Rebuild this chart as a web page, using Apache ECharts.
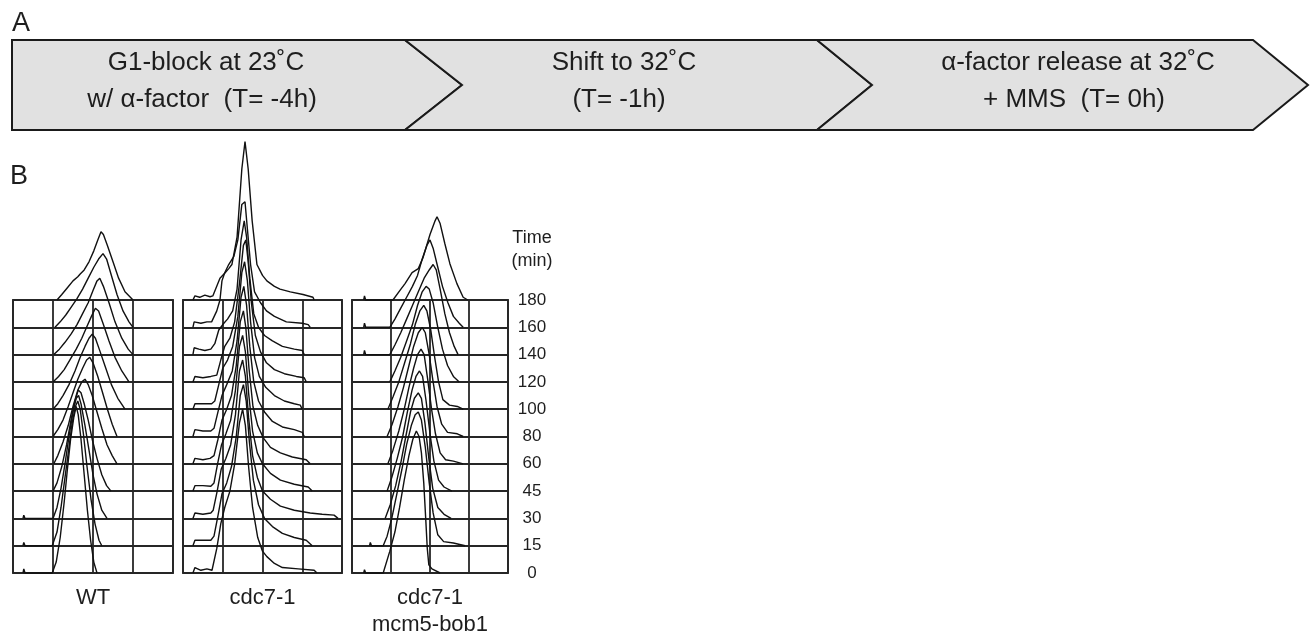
<!DOCTYPE html>
<html>
<head>
<meta charset="utf-8">
<script src="https://cdn.jsdelivr.net/npm/echarts@6/dist/echarts.min.js"></script>
<style>
  html, body { margin: 0; padding: 0; background: #fff; }
  #chart { width: 1312px; height: 641px; }
</style>
</head>
<body>
<div id="chart"></div>
<script>
// time points (rows, bottom to top)
const timeLabels = ['0', '15', '30', '45', '60', '80', '100', '120', '140', '160', '180']
const strainNames = ['WT', 'cdc7-1', 'cdc7-1\nmcm5-bob1']

// histograms: [DNA content (grid columns 0-4), cell count (in row heights)]
const wtHist = [
  [[0.25,0],[0.27,0.15],[0.3,0],[0.98,0],[1.08,0.4],[1.18,1.3],[1.28,2.6],[1.36,3.8],[1.44,4.9],[1.52,5.7],[1.58,6.1],[1.63,5.8],[1.7,4.9],[1.78,3.6],[1.86,2.3],[1.94,1.2],[2.02,0.4],[2.1,0]],
  [[0.25,0],[0.27,0.12],[0.3,0],[0.98,0],[1.1,0.5],[1.2,1.4],[1.3,2.5],[1.4,3.6],[1.48,4.5],[1.56,5.1],[1.62,5.3],[1.68,5.0],[1.76,4.1],[1.85,2.9],[1.95,1.7],[2.05,0.8],[2.15,0.2],[2.22,0]],
  [[0.25,0],[0.27,0.12],[0.3,0],[1.0,0],[1.1,0.4],[1.2,1.1],[1.3,2.0],[1.4,3.0],[1.5,3.9],[1.58,4.4],[1.64,4.5],[1.7,4.2],[1.8,3.4],[1.9,2.5],[2.0,1.6],[2.1,0.9],[2.22,0.3],[2.35,0]],
  [[1.0,0],[1.1,0.3],[1.22,0.9],[1.34,1.7],[1.45,2.6],[1.55,3.3],[1.63,3.7],[1.7,3.6],[1.78,3.2],[1.88,2.6],[1.98,1.9],[2.1,1.2],[2.22,0.6],[2.34,0.2],[2.45,0]],
  [[1.02,0],[1.12,0.3],[1.25,0.8],[1.38,1.4],[1.5,2.1],[1.62,2.7],[1.72,3.0],[1.8,3.1],[1.88,2.9],[1.98,2.5],[2.1,1.9],[2.22,1.3],[2.35,0.7],[2.48,0.3],[2.6,0]],
  [[1.0,0],[1.12,0.25],[1.25,0.6],[1.38,1.1],[1.5,1.6],[1.62,2.1],[1.74,2.5],[1.84,2.8],[1.92,2.9],[2.0,2.7],[2.12,2.2],[2.24,1.6],[2.36,1.0],[2.48,0.45],[2.6,0]],
  [[1.0,0],[1.12,0.2],[1.25,0.5],[1.4,0.9],[1.55,1.4],[1.68,1.9],[1.8,2.3],[1.9,2.6],[1.98,2.75],[2.06,2.6],[2.18,2.1],[2.32,1.5],[2.46,0.9],[2.62,0.4],[2.8,0]],
  [[1.0,0],[1.14,0.2],[1.28,0.45],[1.42,0.8],[1.58,1.2],[1.72,1.6],[1.84,2.0],[1.96,2.4],[2.06,2.7],[2.14,2.6],[2.26,2.1],[2.4,1.5],[2.55,0.9],[2.72,0.4],[2.9,0]],
  [[1.02,0],[1.16,0.2],[1.3,0.45],[1.45,0.75],[1.6,1.1],[1.74,1.5],[1.88,1.9],[2.0,2.35],[2.1,2.7],[2.17,2.8],[2.26,2.5],[2.4,1.9],[2.55,1.2],[2.72,0.6],[2.88,0.2],[3.0,0]],
  [[1.05,0],[1.18,0.2],[1.32,0.45],[1.46,0.75],[1.6,1.05],[1.74,1.4],[1.88,1.8],[2.02,2.2],[2.14,2.5],[2.25,2.7],[2.34,2.5],[2.46,1.9],[2.6,1.2],[2.75,0.6],[2.9,0.2],[3.0,0]],
  [[1.1,0],[1.22,0.2],[1.36,0.45],[1.5,0.7],[1.62,0.85],[1.68,0.95],[1.78,1.1],[1.9,1.4],[2.02,1.8],[2.12,2.2],[2.2,2.5],[2.26,2.4],[2.36,2.0],[2.5,1.4],[2.64,0.8],[2.8,0.3],[3.0,0]]
]

const cdc7Hist = [
  [[0.25,0],[0.3,0.2],[0.45,0.1],[0.6,0.15],[0.73,0.1],[0.85,0.9],[0.95,1.8],[1.05,2.4],[1.18,3.0],[1.3,4.0],[1.42,5.5],[1.5,6.0],[1.57,5.4],[1.65,3.9],[1.75,2.4],[1.88,1.3],[2.0,0.8],[2.11,0.6],[2.3,0.35],[2.5,0.2],[2.9,0.15],[3.3,0.1],[3.37,0]],
  [[0.25,0],[0.3,0.2],[0.5,0.2],[0.7,0.2],[0.78,0.35],[0.88,1.1],[0.98,1.9],[1.1,2.3],[1.22,2.9],[1.34,4.0],[1.44,5.5],[1.52,5.9],[1.59,5.3],[1.67,3.8],[1.77,2.4],[1.9,1.5],[2.05,1.0],[2.25,0.7],[2.5,0.45],[2.8,0.3],[3.1,0.2],[3.25,0]],
  [[0.25,0],[0.3,0.2],[0.5,0.15],[0.7,0.2],[0.76,0.3],[0.86,1.0],[0.96,1.8],[1.08,2.2],[1.2,2.7],[1.32,3.8],[1.42,5.4],[1.5,5.8],[1.57,5.2],[1.65,3.7],[1.75,2.3],[1.87,1.5],[2.0,1.0],[2.2,0.7],[2.45,0.45],[2.8,0.3],[3.2,0.2],[3.5,0.15],[3.8,0.12],[3.9,0]],
  [[0.25,0],[0.3,0.2],[0.5,0.2],[0.7,0.18],[0.78,0.3],[0.87,1.0],[0.97,1.7],[1.08,2.1],[1.2,2.6],[1.32,3.7],[1.42,5.3],[1.5,5.7],[1.57,5.1],[1.65,3.6],[1.75,2.2],[1.87,1.4],[2.0,1.0],[2.2,0.65],[2.45,0.4],[2.8,0.25],[3.15,0.15],[3.25,0]],
  [[0.25,0],[0.3,0.2],[0.5,0.15],[0.68,0.2],[0.78,0.3],[0.88,0.9],[0.98,1.6],[1.1,2.0],[1.22,2.5],[1.34,3.6],[1.44,5.2],[1.52,5.6],[1.58,5.0],[1.66,3.5],[1.76,2.1],[1.88,1.4],[2.02,0.95],[2.2,0.6],[2.45,0.4],[2.75,0.25],[3.1,0.15],[3.2,0]],
  [[0.25,0],[0.3,0.25],[0.5,0.2],[0.7,0.2],[0.78,0.3],[0.88,0.9],[0.98,1.5],[1.1,1.9],[1.24,2.4],[1.36,3.5],[1.46,5.1],[1.53,5.5],[1.6,4.8],[1.68,3.3],[1.78,2.0],[1.9,1.3],[2.05,0.9],[2.25,0.55],[2.5,0.35],[2.8,0.25],[3.0,0.15],[3.05,0]],
  [[0.25,0],[0.3,0.2],[0.5,0.2],[0.72,0.2],[0.8,0.3],[0.9,0.9],[1.0,1.5],[1.12,1.8],[1.25,2.3],[1.38,3.4],[1.48,5.0],[1.55,5.4],[1.62,4.7],[1.7,3.2],[1.8,1.9],[1.92,1.2],[2.08,0.8],[2.3,0.5],[2.55,0.3],[2.8,0.2],[2.95,0.15],[3.0,0]],
  [[0.25,0],[0.3,0.2],[0.5,0.15],[0.7,0.2],[0.85,0.25],[0.95,0.8],[1.05,1.3],[1.18,1.6],[1.3,2.2],[1.42,3.6],[1.52,5.0],[1.58,5.2],[1.64,4.4],[1.72,2.9],[1.82,1.7],[1.95,1.1],[2.1,0.7],[2.3,0.45],[2.55,0.3],[2.85,0.2],[3.05,0.15],[3.1,0]],
  [[0.25,0],[0.28,0.25],[0.4,0.2],[0.55,0.15],[0.7,0.2],[0.8,0.4],[0.9,0.9],[1.0,1.1],[1.12,1.3],[1.25,1.6],[1.36,2.4],[1.46,4.2],[1.54,4.9],[1.6,4.3],[1.68,2.8],[1.78,1.5],[1.9,1.0],[2.05,0.7],[2.25,0.5],[2.5,0.3],[2.8,0.2],[3.0,0.15],[3.05,0]],
  [[0.25,0],[0.28,0.2],[0.45,0.15],[0.6,0.2],[0.72,0.2],[0.85,0.6],[0.93,1.0],[0.98,1.7],[1.05,2.0],[1.15,2.3],[1.28,2.6],[1.38,3.2],[1.48,4.5],[1.56,4.6],[1.62,3.6],[1.7,2.3],[1.8,1.3],[1.95,0.9],[2.1,0.6],[2.3,0.4],[2.6,0.2],[3.0,0.15],[3.15,0.1],[3.2,0]],
  [[0.25,0],[0.3,0.15],[0.42,0.1],[0.55,0.18],[0.68,0.12],[0.75,0.15],[0.93,0.8],[1.06,1.0],[1.15,1.15],[1.23,1.3],[1.36,2.3],[1.48,4.8],[1.56,5.8],[1.64,4.8],[1.74,2.9],[1.86,1.3],[2.0,0.9],[2.11,0.7],[2.3,0.5],[2.44,0.4],[2.7,0.3],[3.02,0.2],[3.27,0.1],[3.3,0]]
]

const bobHist = [
  [[0.3,0],[0.32,0.12],[0.35,0],[0.8,0],[0.97,0.8],[1.1,1.5],[1.22,2.4],[1.34,3.4],[1.46,4.3],[1.56,4.9],[1.65,5.2],[1.72,5.0],[1.78,4.4],[1.84,3.3],[1.89,2.0],[1.93,0.9],[1.97,0.3],[2.05,0.15],[2.26,0]],
  [[0.45,0],[0.47,0.12],[0.5,0],[0.8,0],[0.9,0.35],[1.02,1.0],[1.15,1.9],[1.28,2.8],[1.4,3.7],[1.52,4.4],[1.62,4.8],[1.7,4.9],[1.78,4.6],[1.88,3.6],[1.98,2.3],[2.08,1.2],[2.2,0.4],[2.35,0.15],[2.6,0.1],[2.9,0]],
  [[0.85,0],[0.98,0.5],[1.12,1.2],[1.26,2.1],[1.38,3.0],[1.5,3.9],[1.6,4.4],[1.7,4.6],[1.78,4.4],[1.87,3.5],[1.97,2.2],[2.07,1.1],[2.2,0.4],[2.36,0.15],[2.54,0]],
  [[0.9,0],[1.02,0.5],[1.16,1.2],[1.3,2.0],[1.42,2.9],[1.54,3.7],[1.64,4.2],[1.73,4.4],[1.81,4.2],[1.9,3.3],[2.0,2.1],[2.1,1.1],[2.22,0.4],[2.36,0.15],[2.56,0]],
  [[0.92,0],[1.05,0.5],[1.2,1.2],[1.34,2.0],[1.46,2.8],[1.58,3.5],[1.68,4.0],[1.77,4.2],[1.85,4.0],[1.94,3.1],[2.04,2.0],[2.14,1.1],[2.26,0.4],[2.4,0.15],[2.6,0.1],[2.85,0]],
  [[0.9,0],[1.03,0.45],[1.18,1.1],[1.32,1.8],[1.46,2.6],[1.58,3.3],[1.7,3.8],[1.8,4.0],[1.88,3.8],[1.98,3.0],[2.08,2.0],[2.18,1.1],[2.3,0.45],[2.45,0.15],[2.7,0.1],[2.85,0]],
  [[0.92,0],[1.05,0.45],[1.2,1.0],[1.35,1.7],[1.5,2.4],[1.62,3.1],[1.74,3.6],[1.84,3.8],[1.92,3.6],[2.02,2.9],[2.12,1.9],[2.22,1.0],[2.33,0.35],[2.5,0.15],[2.7,0.1],[2.85,0]],
  [[0.97,0],[1.1,0.4],[1.25,0.9],[1.4,1.5],[1.55,2.1],[1.68,2.8],[1.8,3.3],[1.9,3.5],[1.98,3.4],[2.08,2.9],[2.2,2.0],[2.32,1.2],[2.45,0.6],[2.6,0.2],[2.75,0]],
  [[0.3,0],[0.32,0.15],[0.35,0],[0.97,0],[1.1,0.35],[1.25,0.8],[1.4,1.3],[1.55,1.8],[1.7,2.3],[1.85,2.8],[1.98,3.1],[2.08,3.3],[2.16,3.1],[2.26,2.4],[2.38,1.5],[2.5,0.8],[2.62,0.3],[2.72,0]],
  [[0.3,0],[0.32,0.15],[0.35,0],[0.97,0],[1.1,0.3],[1.25,0.7],[1.4,1.1],[1.55,1.5],[1.68,1.9],[1.8,2.5],[1.92,3.0],[2.0,3.2],[2.08,2.9],[2.2,2.2],[2.32,1.5],[2.46,0.9],[2.6,0.4],[2.75,0.15],[2.85,0]],
  [[0.3,0],[0.32,0.15],[0.35,0],[1.05,0],[1.23,0.35],[1.36,0.6],[1.54,1.0],[1.7,1.15],[1.82,1.55],[2.0,2.4],[2.13,2.9],[2.18,3.05],[2.26,2.8],[2.38,2.07],[2.51,1.33],[2.69,0.6],[2.85,0.1],[2.97,0]]
]

const allHist = [wtHist, cdc7Hist, bobHist]

const FONT = '"Liberation Sans", Arial, Helvetica, sans-serif'
const gridColor = '#262626'
const textColor = '#1e1e1e'

const chart = echarts.init(document.getElementById('chart'), null, { renderer: 'canvas' })

const grids = [
  { left: 13, top: 300, width: 160, height: 273 },
  { left: 183, top: 300, width: 159, height: 273 },
  { left: 352, top: 300, width: 156, height: 273 }
].map(g => ({ ...g, show: true, borderColor: gridColor, borderWidth: 1.8 }))

const splitStyle = { show: true, lineStyle: { color: gridColor, width: 1.8 } }

const xAxes = strainNames.map((name, i) => ({
  gridIndex: i,
  type: 'value',
  min: 0,
  max: 4,
  interval: 1,
  name: name,
  nameLocation: 'middle',
  nameGap: 11,
  nameTextStyle: { fontSize: 22, fontFamily: FONT, color: textColor, lineHeight: 27 },
  axisLine: { show: false },
  axisTick: { show: false },
  axisLabel: { show: false },
  splitLine: splitStyle
}))

const yAxes = strainNames.map((name, i) => ({
  gridIndex: i,
  type: 'value',
  min: 0,
  max: 10,
  interval: 1,
  position: i === 2 ? 'right' : 'left',
  axisLine: { show: false },
  axisTick: { show: false },
  axisLabel: {
    show: i === 2,
    formatter: v => timeLabels[v],
    align: 'center',
    margin: 24,
    fontSize: 17,
    fontFamily: FONT,
    color: textColor
  },
  splitLine: splitStyle
}))

// each histogram sits on its own time row
const series = []
allHist.forEach((hists, s) => {
  hists.forEach((hist, row) => {
    series.push({
      name: strainNames[s] + ' ' + timeLabels[row],
      type: 'line',
      xAxisIndex: s,
      yAxisIndex: s,
      data: hist.map(p => [p[0], row + p[1]]),
      symbol: 'none',
      clip: false,
      silent: true,
      lineStyle: { color: '#111', width: 1.4 },
      z: 3
    })
  })
})

// panel A: three chevron steps
const steps = [
  { pts: [[12, 40], [405, 40], [462, 85], [405, 130], [12, 130]], lines: ['G1-block at 23˚C', 'w/ α-factor  (T= -4h)'], cx: [206, 202] },
  { pts: [[405, 40], [817, 40], [872, 85], [817, 130], [405, 130], [462, 85]], lines: ['Shift to 32˚C', '(T= -1h)'], cx: [624, 619] },
  { pts: [[817, 40], [1253, 40], [1308, 85], [1253, 130], [817, 130], [872, 85]], lines: ['α-factor release at 32˚C', '+ MMS  (T= 0h)'], cx: [1078, 1074] }
]

function label(text, x, y, size, align) {
  return {
    type: 'text',
    x: x,
    y: y,
    z: 10,
    style: {
      text: text,
      fontSize: size,
      fontFamily: FONT,
      fill: textColor,
      align: align || 'center',
      verticalAlign: 'middle',
      textAlign: align || 'center',
      textVerticalAlign: 'middle'
    }
  }
}

const graphics = []
steps.forEach(st => {
  graphics.push({
    type: 'polygon',
    z: 1,
    shape: { points: st.pts },
    style: { fill: '#e1e1e1', stroke: '#1a1a1a', lineWidth: 2 }
  })
  graphics.push(label(st.lines[0], st.cx[0], 63, 26))
  graphics.push(label(st.lines[1], st.cx[1], 100, 26))
})
graphics.push(label('A', 12, 24, 27, 'left'))
graphics.push(label('B', 10, 177, 27, 'left'))
graphics.push(label('Time', 532, 238, 18))
graphics.push(label('(min)', 532, 261, 18))

chart.setOption({
  animation: false,
  backgroundColor: '#fff',
  grid: grids,
  xAxis: xAxes,
  yAxis: yAxes,
  series: series,
  graphic: graphics
})

window.addEventListener('resize', () => chart.resize())
</script>
</body>
</html>
